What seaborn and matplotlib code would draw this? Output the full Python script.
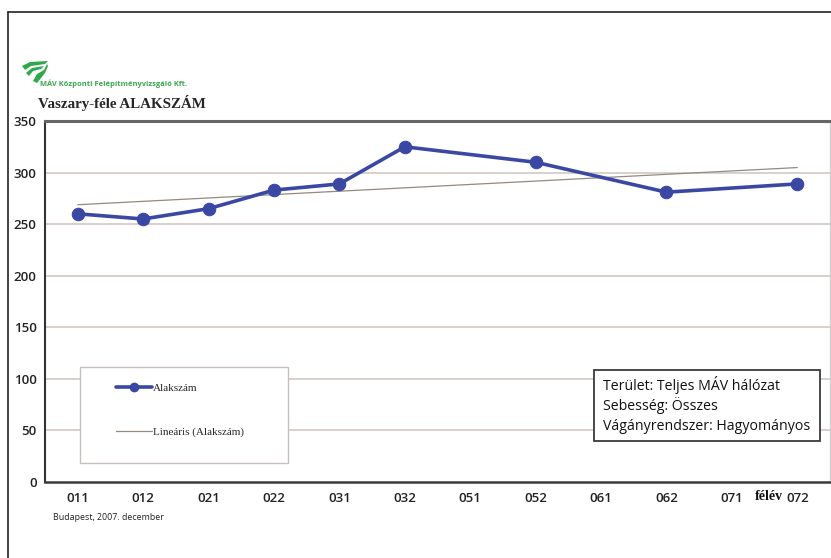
import numpy as np
import pandas as pd
import matplotlib
matplotlib.use("Agg")
import matplotlib.pyplot as plt
from matplotlib.patches import Rectangle, Polygon
from matplotlib.lines import Line2D
import seaborn as sns

# Half-year periods and the measured shape index (None = no measurement)
periods = ["011", "012", "021", "022", "031", "032",
           "051", "052", "061", "062", "071", "072"]
alakszam = [260, 255, 265, 283, 289, 325,
            None, 310, None, 281, None, 289]
y_ticks = [0, 50, 100, 150, 200, 250, 300, 350]
info_lines = ["Terület: Teljes MÁV hálózat",
              "Sebesség: Összes",
              "Vágányrendszer: Hagyományos"]

sns.set_style("white")
plt.rcParams["font.family"] = ["Open Sans", "DejaVu Sans"]

W, H = 831, 558
fig = plt.figure(figsize=(W / 100, H / 100), dpi=100)
fig.patch.set_facecolor("white")


def px(x, y):
    """figure-pixel (top-left origin) -> figure fraction"""
    return x / W, 1 - y / H


ax = fig.add_axes([45 / W, 1 - 482 / H, 785 / W, 361 / H])

df = pd.DataFrame({"pos": np.arange(len(periods)), "period": periods,
                   "value": alakszam}).dropna()
df["value"] = df["value"].astype(float)

blue = "#3a48a4"
sns.lineplot(data=df, x="pos", y="value", ax=ax, color=blue, linewidth=2.6,
             marker="o", markersize=9, markeredgecolor=blue, zorder=4)

# linear trend of the series
coef = np.polyfit(df["pos"], df["value"], 1)
trend = pd.DataFrame({"pos": [df["pos"].min(), df["pos"].max()]})
trend["value"] = np.polyval(coef, trend["pos"])
sns.lineplot(data=trend, x="pos", y="value", ax=ax, color="#948a80",
             linewidth=0.9, zorder=3)

tick_font = {"size": 9.5, "weight": "semibold"}
ax.set_xlim(-0.5, len(periods) - 0.5)
ax.set_ylim(0, 350)
ax.set_yticks(y_ticks)
ax.set_yticklabels([str(t) for t in y_ticks], fontdict=tick_font,
                   color="#222222")
ax.set_xticks(np.arange(len(periods)))
ax.set_xticklabels(periods, fontdict=tick_font, color="#222222")
ax.set_xticks(np.arange(len(periods) + 1) - 0.5, minor=True)
ax.tick_params(axis="x", which="major", length=0, pad=7)
ax.tick_params(axis="x", which="minor", direction="in", length=3,
               color="#aaaaaa")
ax.tick_params(axis="y", which="major", direction="out", length=4,
               color="#444444", pad=2)
ax.set_xlabel("")
ax.set_ylabel("")

for t in y_ticks[1:-1]:
    ax.axhline(t, color="#d9cfcb", linewidth=1.4, zorder=1)

ax.spines["left"].set_color("#333333")
ax.spines["left"].set_linewidth(1.5)
ax.spines["bottom"].set_color("#3a3a3a")
ax.spines["bottom"].set_linewidth(1.8)
ax.spines["top"].set_color("#666666")
ax.spines["top"].set_linewidth(2.2)
ax.spines["right"].set_color("#d0d0d0")
ax.spines["right"].set_linewidth(1.0)

# legend box
x0, y0 = (80 - 45) / 785, (482 - 463) / 361
ax.add_patch(Rectangle((x0, y0), (288 - 80) / 785, (463 - 367) / 361,
                       transform=ax.transAxes, facecolor="white",
                       edgecolor="#c8c0bc", linewidth=1.0, zorder=5))
handles = [Line2D([], [], color=blue, linewidth=2.6, marker="o",
                  markersize=6),
           Line2D([], [], color="#948a80", linewidth=0.9)]
leg = ax.legend(handles, ["Alakszám", "Lineáris (Alakszám)"],
                loc="upper left",
                bbox_to_anchor=((110 - 45) / 785, (482 - 378) / 361),
                frameon=False, handlelength=3.3, handletextpad=0.1,
                labelspacing=3.0, borderpad=0,
                prop={"family": "Liberation Serif", "size": 8})
leg.set_zorder(6)

# info box
ax.add_patch(Rectangle(((594 - 45) / 785, (482 - 441) / 361),
                       (820 - 594) / 785, (441 - 370) / 361,
                       transform=ax.transAxes, facecolor="white",
                       edgecolor="#3a3a3a", linewidth=1.3, zorder=5))
for i, line in enumerate(info_lines):
    fx, fy = px(603, 385 + i * 20.5)
    fig.text(fx, fy, line, fontsize=10.2, color="#111111", va="center",
             ha="left", zorder=7)

# headings and notes
fx, fy = px(38, 103)
fig.text(fx, fy, "Vaszary-féle ALAKSZÁM", family="Liberation Serif",
         fontweight="bold", fontsize=10.8, va="center", ha="left")
fx, fy = px(769, 497)
fig.text(fx, fy, "félév", family="Liberation Serif", fontweight="bold",
         fontsize=10, va="center", ha="center", color="#111111")
fx, fy = px(53, 517)
fig.text(fx, fy, "Budapest, 2007. december", fontsize=6.4, va="center",
         ha="left", color="#222222")

# company mark
green = "#2ea84a"
stripes = [
    [(22, 66), (30, 62), (48, 61), (45, 64), (31, 66), (25, 70)],
    [(26, 73), (32, 68), (44, 66), (41, 69), (33, 71), (29, 76)],
    [(33, 81), (37, 74), (44, 70), (47, 64), (48, 66), (45, 73), (37, 83)],
]
for pts in stripes:
    fig.patches.append(Polygon([px(a, b) for a, b in pts], closed=True,
                               transform=fig.transFigure, facecolor=green,
                               edgecolor="none"))
fx, fy = px(40, 84)
fig.text(fx, fy, "MÁV Központi Felépítményvizsgáló Kft.", fontsize=5.4,
         fontweight="bold", color="#3aa84f", va="center", ha="left")

# outer frame
fig.lines.append(Line2D([8 / W, 8 / W], [0, 1 - 12 / H],
                        transform=fig.transFigure, color="#222222",
                        linewidth=1.2))
fig.lines.append(Line2D([8 / W, 1], [1 - 12 / H, 1 - 12 / H],
                        transform=fig.transFigure, color="#222222",
                        linewidth=1.2))

fig.savefig("out.png", dpi=100)
